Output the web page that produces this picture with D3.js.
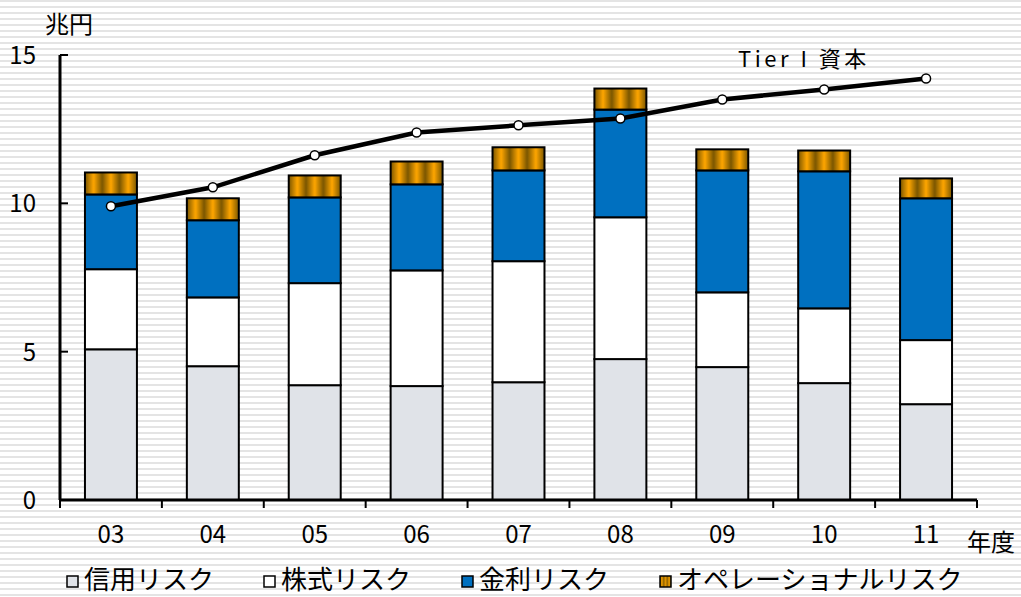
<!DOCTYPE html>
<html lang="ja">
<head>
<meta charset="UTF-8">
<script src="https://cdnjs.cloudflare.com/ajax/libs/d3/7.8.5/d3.min.js"></script>
<style>
  body { margin: 0; }
  svg text { font-family: "Noto Sans CJK JP", sans-serif; fill: #000; }
</style>
</head>
<body>
<svg id="chart" width="1021" height="597"></svg>
<script>
// data (兆円)
let years = ["03", "04", "05", "06", "07", "08", "09", "10", "11"]
let creditRisk = [5.08, 4.51, 3.87, 3.84, 3.97, 4.75, 4.48, 3.94, 3.23]
let equityRisk = [2.70, 2.32, 3.44, 3.90, 4.08, 4.78, 2.52, 2.52, 2.16]
let rateRisk = [2.52, 2.60, 2.89, 2.90, 3.06, 3.63, 4.11, 4.62, 4.78]
let opRisk = [0.74, 0.74, 0.74, 0.77, 0.78, 0.71, 0.71, 0.70, 0.67]
let tier1 = [9.90, 10.54, 11.62, 12.39, 12.63, 12.86, 13.50, 13.84, 14.21]
let yTicks = [0, 5, 10, 15]
let seriesNames = ["信用リスク", "株式リスク", "金利リスク", "オペレーショナルリスク"]

let W = 1021, H = 597
let svg = d3.select("#chart")
let defs = svg.append("defs")

// striped background
let bg = defs.append("pattern").attr("id", "bgStripe")
    .attr("patternUnits", "userSpaceOnUse").attr("width", 10).attr("height", 6)
bg.append("rect").attr("width", 10).attr("height", 6).attr("fill", "#fff")
bg.append("rect").attr("y", 0).attr("width", 10).attr("height", 2).attr("fill", "#e4e4e4")
svg.append("rect").attr("width", W).attr("height", H).attr("fill", "url(#bgStripe)")

// operational risk fill: vertical gold stripes
let grad = defs.append("linearGradient").attr("id", "goldGrad")
grad.append("stop").attr("offset", "0%").attr("stop-color", "#7a5600")
grad.append("stop").attr("offset", "50%").attr("stop-color", "#ffa600")
grad.append("stop").attr("offset", "100%").attr("stop-color", "#7a5600")
let gold = defs.append("pattern").attr("id", "goldStripe")
    .attr("patternUnits", "objectBoundingBox").attr("patternContentUnits", "objectBoundingBox")
    .attr("width", 1 / 3).attr("height", 1)
gold.append("rect").attr("width", 1 / 3).attr("height", 1).attr("fill", "url(#goldGrad)")

let colors = ["#e0e3e8", "#ffffff", "#0070c0", "url(#goldStripe)"]

let margin = { left: 60, right: 44, top: 55, bottom: 97 }
let x = d3.scaleBand().domain(years).range([margin.left, W - margin.right]).paddingInner(0.49).paddingOuter(0.245)
let xb = d3.scaleBand().domain(years).range([margin.left, W - margin.right])
let y = d3.scaleLinear().domain([0, 15]).range([H - margin.bottom, margin.top])

// stacked bars
let rows = years.map((yr, i) => ({ year: yr, c: creditRisk[i], e: equityRisk[i], r: rateRisk[i], o: opRisk[i] }))
let stack = d3.stack().keys(["c", "e", "r", "o"])(rows)
svg.append("g").selectAll("g").data(stack).join("g")
    .attr("fill", (d, i) => colors[i])
    .selectAll("rect").data(d => d).join("rect")
    .attr("x", d => x(d.data.year))
    .attr("width", x.bandwidth())
    .attr("y", d => y(d[1]))
    .attr("height", d => y(d[0]) - y(d[1]))
    .attr("stroke", "#000").attr("stroke-width", 2)

// axes
let xAxis = svg.append("g").attr("transform", `translate(0,${y(0)})`)
xAxis.append("line").attr("x1", margin.left).attr("x2", W - margin.right).attr("stroke", "#000").attr("stroke-width", 3)
let bounds = years.map(d => xb(d)).concat([W - margin.right])
xAxis.selectAll(".tk").data(bounds).join("line").attr("class", "tk")
    .attr("x1", d => d).attr("x2", d => d).attr("y1", 0).attr("y2", 8)
    .attr("stroke", "#000").attr("stroke-width", 2)
xAxis.selectAll("text").data(years).join("text")
    .attr("x", d => xb(d) + xb.bandwidth() / 2).attr("y", 43)
    .attr("text-anchor", "middle").attr("font-size", 24).text(d => d)

let yAxis = svg.append("g").attr("transform", `translate(${margin.left},0)`)
yAxis.append("line").attr("y1", y(0)).attr("y2", y(15)).attr("stroke", "#000").attr("stroke-width", 3)
yAxis.selectAll(".tk").data(yTicks).join("line").attr("class", "tk")
    .attr("y1", d => y(d)).attr("y2", d => y(d)).attr("x1", 0).attr("x2", 8)
    .attr("stroke", "#000").attr("stroke-width", 2)
yAxis.selectAll("text").data(yTicks).join("text")
    .attr("x", -24).attr("y", d => y(d) + 9)
    .attr("text-anchor", "end").attr("font-size", 24).text(d => d)

svg.append("text").attr("x", 45).attr("y", 33).attr("font-size", 24).text("兆円")
svg.append("text").attr("x", 967).attr("y", 551).attr("font-size", 24).text("年度")

// Tier I line
let cx = d => xb(d) + xb.bandwidth() / 2
let line = d3.line().x(d => cx(d.year)).y(d => y(d.v))
let pts = years.map((yr, i) => ({ year: yr, v: tier1[i] }))
svg.append("path").attr("d", line(pts)).attr("fill", "none").attr("stroke", "#000").attr("stroke-width", 4.5)
svg.selectAll(".pt").data(pts).join("circle").attr("class", "pt")
    .attr("cx", d => cx(d.year)).attr("cy", d => y(d.v)).attr("r", 4.5)
    .attr("fill", "#fff").attr("stroke", "#000").attr("stroke-width", 1.5)
svg.append("text").attr("x", 738).attr("y", 67).attr("font-size", 22)
    .attr("letter-spacing", 3.5).text("Tier I 資本")

// legend
let legX = [67, 264, 462, 660]
let leg = svg.append("g").selectAll("g").data(seriesNames).join("g")
    .attr("transform", (d, i) => `translate(${legX[i]},576)`)
leg.append("rect").attr("width", 11).attr("height", 11)
    .attr("fill", (d, i) => colors[i]).attr("stroke", "#000").attr("stroke-width", 1.5)
leg.append("text").attr("x", 17).attr("y", 13).attr("font-size", 26).text(d => d)
</script>
</body>
</html>
